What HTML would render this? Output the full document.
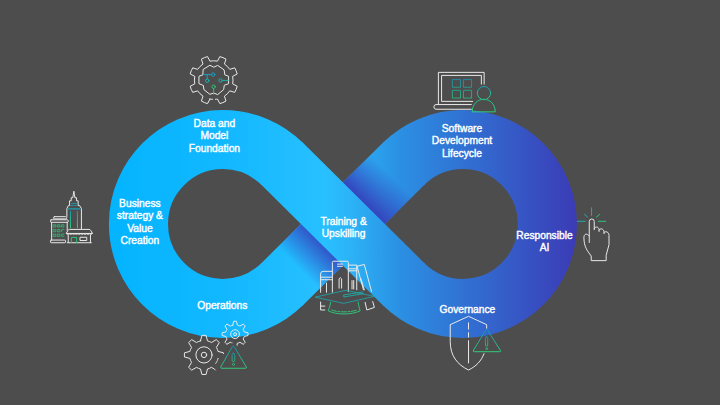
<!DOCTYPE html>
<html><head><meta charset="utf-8"><title>AI lifecycle</title>
<style>
html,body{margin:0;padding:0;background:#4d4d4d;}
body{width:720px;height:405px;overflow:hidden;position:relative;font-family:"Liberation Sans",sans-serif;}
svg{position:absolute;left:0;top:0;}
.t{position:absolute;color:#fff;font-size:10.25px;line-height:12px;text-align:center;white-space:nowrap;transform:translateX(-50%);font-weight:normal;-webkit-text-stroke:0.4px #fff;}
</style></head><body>
<svg width="720" height="405" viewBox="0 0 720 405">
<defs>
<linearGradient id="g" gradientUnits="userSpaceOnUse" x1="109" y1="0" x2="577" y2="0">
<stop offset="0" stop-color="#04b4ff"/>
<stop offset="0.25" stop-color="#12b8ff"/>
<stop offset="0.46" stop-color="#28c0ff"/>
<stop offset="0.52" stop-color="#2cb2f6"/>
<stop offset="0.62" stop-color="#2b90e3"/>
<stop offset="1" stop-color="#3b3bb6"/>
</linearGradient>
<linearGradient id="s1" gradientUnits="userSpaceOnUse" x1="362.83" y1="204.26" x2="391.60" y2="175.76">
<stop offset="0" stop-color="#3540bb" stop-opacity="1"/>
<stop offset="1" stop-color="#3540bb" stop-opacity="0"/>
</linearGradient>
<linearGradient id="s2" gradientUnits="userSpaceOnUse" x1="322.97" y1="243.74" x2="298.46" y2="268.02">
<stop offset="0" stop-color="#3152c6" stop-opacity="1"/>
<stop offset="1" stop-color="#3152c6" stop-opacity="0"/>
</linearGradient>
<linearGradient id="tgA" gradientUnits="userSpaceOnUse" x1="0" y1="79" x2="0" y2="98"><stop offset="0" stop-color="#1a8fae"/><stop offset="1" stop-color="#2bbd80"/></linearGradient>
<linearGradient id="tgB" gradientUnits="userSpaceOnUse" x1="0" y1="86" x2="0" y2="100"><stop offset="0" stop-color="#1a9db8"/><stop offset="1" stop-color="#30cc78"/></linearGradient>
<linearGradient id="tgC" gradientUnits="userSpaceOnUse" x1="0" y1="96" x2="0" y2="112"><stop offset="0" stop-color="#25b592"/><stop offset="1" stop-color="#30cc78"/></linearGradient>
<linearGradient id="tgD" gradientUnits="userSpaceOnUse" x1="0" y1="211" x2="0" y2="228"><stop offset="0" stop-color="#1a9db8"/><stop offset="1" stop-color="#30cc78"/></linearGradient>
<linearGradient id="tgE" gradientUnits="userSpaceOnUse" x1="0" y1="345" x2="0" y2="369"><stop offset="0" stop-color="#1a8fae"/><stop offset="1" stop-color="#30cc78"/></linearGradient>
<linearGradient id="tgE2" gradientUnits="userSpaceOnUse" x1="0" y1="353" x2="0" y2="363"><stop offset="0" stop-color="#1a9db8"/><stop offset="1" stop-color="#30cc78"/></linearGradient>
<linearGradient id="tgF" gradientUnits="userSpaceOnUse" x1="0" y1="329" x2="0" y2="352"><stop offset="0" stop-color="#1a8fae"/><stop offset="1" stop-color="#30cc78"/></linearGradient>
<linearGradient id="tgF2" gradientUnits="userSpaceOnUse" x1="0" y1="337" x2="0" y2="347"><stop offset="0" stop-color="#1a9db8"/><stop offset="1" stop-color="#30cc78"/></linearGradient>
</defs>
<rect width="720" height="405" fill="#4d4d4d"/>
<polygon points="302.42,305.69 424.97,184.29 383.38,142.31 260.83,263.71" fill="url(#g)"/>
<polygon points="383.62,225.25 412.40,196.75 370.81,154.76 342.03,183.27" fill="url(#s1)"/>
<polygon points="343.77,264.73 319.26,289.01 277.66,247.03 302.18,222.75" fill="url(#s2)"/>
<path d="M282.33,164.00 A84.45,84.45 0 1 0 282.33,284.00" fill="none" stroke="url(#g)" stroke-width="59.1"/>
<path d="M403.47,164.00 A84.45,84.45 0 1 1 403.47,284.00" fill="none" stroke="url(#g)" stroke-width="59.1"/>
<polygon points="260.83,184.29 383.38,305.69 424.97,263.71 302.42,142.31" fill="url(#g)"/>
<g fill="none" stroke="#e9e9e9" stroke-width="1.0" stroke-linejoin="round" stroke-linecap="round">
<path d="M209.93,99.03 L207.56,103.61 A24.30,24.30 0 0 1 201.41,101.06 L202.98,96.15 A19.30,19.30 0 0 1 197.65,90.82 L192.74,92.39 A24.30,24.30 0 0 1 190.19,86.24 L194.77,83.87 A19.30,19.30 0 0 1 194.77,76.33 L190.19,73.96 A24.30,24.30 0 0 1 192.74,67.81 L197.65,69.38 A19.30,19.30 0 0 1 202.98,64.05 L201.41,59.14 A24.30,24.30 0 0 1 207.56,56.59 L209.93,61.17 A19.30,19.30 0 0 1 217.47,61.17 L219.84,56.59 A24.30,24.30 0 0 1 225.99,59.14 L224.42,64.05 A19.30,19.30 0 0 1 229.75,69.38 L234.66,67.81 A24.30,24.30 0 0 1 237.21,73.96 L232.63,76.33 A19.30,19.30 0 0 1 232.63,83.87 L237.21,86.24 A24.30,24.30 0 0 1 234.66,92.39 L229.75,90.82 A19.30,19.30 0 0 1 224.42,96.15 L225.99,101.06 A24.30,24.30 0 0 1 219.84,103.61 L217.47,99.03 A19.30,19.30 0 0 1 209.93,99.03 Z" pathLength="100" stroke-dasharray="97.2 1.5 1.3 0"/>
<path d="M210.30,65.43 L213.75,67.21 L217.70,65.43 L224.12,69.88 L224.81,74.81 L228.57,76.30 L228.57,83.70 L224.32,85.19 L223.63,89.63 L217.70,94.57 L213.75,93.09 L209.80,94.27 L203.88,89.63 L203.38,85.48 L198.94,83.70 L198.94,76.30 L202.89,74.81 L203.09,69.88 Z"/>
<circle cx="213.2" cy="74.6" r="1.7" stroke="#1e9fc0"/><path d="M203.7,74.6H211.4M207.2,74.6V78.9" stroke="#1e9fc0"/><circle cx="207.2" cy="80.7" r="1.7" stroke="#20b0a8"/>
<circle cx="220.6" cy="80.4" r="1.7" stroke="#20b0a8"/><path d="M222.4,80.4H228.2" stroke="#20b0a8"/>
<circle cx="213.6" cy="86.7" r="1.7" stroke="#2fc272"/><path d="M213.6,88.5V94.1" stroke="#2fc272"/>
<path d="M484.14,84.11 L484.14,72.36 L438.40,72.36 L438.40,104.14 "/>
<path d="M481.37,84.11 L481.37,75.40 L441.58,75.40 L441.58,101.38 L472.67,101.38 "/>
<path d="M471.29,104.56 L436.05,104.56  A2.35,2.35 0 0 0 436.05,109.25 L471.29,109.25"/>
<rect x="452.77" y="79.55" width="7.74" height="7.74" stroke="url(#tgA)" stroke-width="0.85"/>
<rect x="463.83" y="79.55" width="7.74" height="7.74" stroke="url(#tgA)" stroke-width="0.85"/>
<rect x="452.77" y="90.32" width="7.74" height="7.74" stroke="url(#tgA)" stroke-width="0.85"/>
<rect x="463.83" y="90.32" width="7.74" height="7.74" stroke="url(#tgA)" stroke-width="0.85"/>
<circle cx="484.00" cy="93.09" r="6.63" stroke="url(#tgB)"/>
<path d="M472.25,111.46 C472.25,103.45 478.20,99.31 483.72,99.31 C489.25,99.31 495.19,103.45 495.19,111.46 Z" stroke="url(#tgC)"/>
<path d="M66.89,216.37 L66.89,208.52 L68.37,205.56 L69.56,205.56 L69.56,200.81 L71.19,200.81 L71.19,197.70 L72.81,197.70 L73.26,194.89 L73.85,191.19 L74.44,194.89 L74.89,197.70 L76.52,197.70 L76.52,200.81 L78.15,200.81 L78.15,205.56 L79.63,205.56 L81.41,208.52 L81.41,228.96 "/>
<path d="M71.63,203.48 L76.37,203.48  M70.59,205.41 L77.41,205.41 " stroke="#1e9fb2" stroke-width="0.8"/>
<path d="M68.22,208.96 L80.07,208.96 " stroke="#1e9fb2" stroke-width="1.2"/>
<path d="M70.44,227.78 L70.44,211.48  M77.41,227.78 L77.41,211.48 " stroke="url(#tgD)"/>
<rect x="53.41" y="216.67" width="13.33" height="2.22" rx="1.2"/>
<rect x="50.44" y="219.78" width="17.78" height="2.52" rx="0.8"/>
<path d="M51.63,222.30 L51.63,240.07  M67.19,222.30 L67.19,230.44 "/>
<rect x="50.44" y="240.07" width="15.11" height="2.67" rx="0.8"/>
<rect x="53.56" y="224.81" width="2.22" height="2.22" stroke="#2fc47a" stroke-width="0.8"/>
<rect x="57.70" y="224.81" width="2.22" height="2.22" stroke="#2fc47a" stroke-width="0.8"/>
<rect x="61.70" y="224.81" width="2.22" height="2.22" stroke="#2fc47a" stroke-width="0.8"/>
<rect x="53.56" y="229.56" width="2.22" height="2.22" stroke="#2fc47a" stroke-width="0.8"/>
<rect x="57.70" y="229.56" width="2.22" height="2.22" stroke="#2fc47a" stroke-width="0.8"/>
<path d="M61.70,231.78 L61.70,229.56 L63.93,229.56 " stroke="#2fc47a" stroke-width="0.8"/>
<rect x="53.56" y="234.15" width="2.22" height="2.22" stroke="#2fc47a" stroke-width="0.8"/>
<rect x="57.70" y="234.15" width="2.22" height="2.22" stroke="#2fc47a" stroke-width="0.8"/>
<path d="M63.93,236.37 L61.70,236.37 L61.70,234.15 L63.93,234.15 " stroke="#2fc47a" stroke-width="0.8"/>
<path d="M66.44,233.11 L67.93,230.44 Q68.37,229.41 69.70,229.41 L88.96,229.41 Q90.30,229.41 90.74,230.44 L92.22,233.11 Z" fill="#4d4d4d"/>
<path d="M66.44,233.11 A1.43,1.43 0 0 0 69.31,233.11 A1.43,1.43 0 0 0 72.17,233.11 A1.43,1.43 0 0 0 75.04,233.11 A1.43,1.43 0 0 0 77.90,233.11 A1.43,1.43 0 0 0 80.77,233.11 A1.43,1.43 0 0 0 83.63,233.11 A1.43,1.43 0 0 0 86.49,233.11 A1.43,1.43 0 0 0 89.36,233.11 A1.43,1.43 0 0 0 92.22,233.11" stroke-width="0.8"/>
<path d="M68.22,235.19 L68.22,242.59  M90.44,235.19 L90.44,242.59  M67.33,242.74 L91.33,242.74 "/>
<path d="M71.33,242.59 L71.33,237.41 L76.67,237.41 L76.67,242.59 " stroke="#2fc47a"/>
<rect x="80.37" y="237.26" width="6.37" height="3.26"/>
<path d="M589.26,242.48 L589.26,221.49 A2.49,2.49 0 0 1 594.24,221.49 L594.24,229.67 M594.24,228.60 C595.13,226.11 598.69,226.47 599.05,229.67 L599.05,231.45 M599.05,230.03 C600.11,227.89 603.67,228.60 604.03,231.81 L604.03,233.59 M604.03,232.52 C605.45,230.74 609.01,231.81 609.01,235.37 L609.01,244.62 L606.16,255.30 L606.16,260.63 L591.22,260.63 L591.22,256.01 C587.12,250.49 584.10,246.93 583.92,238.04 C583.74,233.59 587.12,232.88 589.26,236.08"/>
<path d="M591.57,207.79 L591.57,215.44  M584.46,214.37 L587.66,217.22  M577.34,221.31 L585.35,221.31 " stroke="#1fa9b3"/>
<path d="M599.58,214.37 L596.38,217.22  M598.33,221.31 L605.81,221.31 " stroke="#2fc47a"/>
<path d="M200.48,340.84 L201.88,335.43 A19.60,19.60 0 0 1 206.07,335.43 L207.47,340.84 A14.50,14.50 0 0 1 211.45,342.49 L216.27,339.65 A19.60,19.60 0 0 1 219.24,342.62 L216.40,347.43 A14.50,14.50 0 0 1 218.05,351.42 L223.46,352.82 A19.60,19.60 0 0 1 223.46,357.01 L218.05,358.41 A14.50,14.50 0 0 1 216.40,362.39 L219.24,367.21 A19.60,19.60 0 0 1 216.27,370.18 L211.45,367.34 A14.50,14.50 0 0 1 207.47,368.99 L206.07,374.40 A19.60,19.60 0 0 1 201.88,374.40 L200.48,368.99 A14.50,14.50 0 0 1 196.50,367.34 L191.68,370.18 A19.60,19.60 0 0 1 188.71,367.21 L191.55,362.39 A14.50,14.50 0 0 1 189.90,358.41 L184.49,357.01 A19.60,19.60 0 0 1 184.49,352.82 L189.90,351.42 A14.50,14.50 0 0 1 191.55,347.43 L188.71,342.62 A19.60,19.60 0 0 1 191.68,339.65 L196.50,342.49 A14.50,14.50 0 0 1 200.48,340.84 Z"/>
<circle cx="203.98" cy="354.91" r="8.1"/><circle cx="203.98" cy="354.91" r="2.7"/>
<path d="M215.46,354.31 L226.94,353.71 L225.59,362.78 L218.14,373.04 L211.06,363.98 L214.78,358.85 Z" fill="#4d4d4d" stroke="none"/>
<path d="M218.04,358.42 A14.5,14.5 0 0 1 215.71,363.44" stroke-dasharray="2 1.4"/>
<path d="M232.82,325.05 L233.70,321.25 A13.00,13.00 0 0 1 236.48,321.25 L237.35,325.05 A9.40,9.40 0 0 1 239.93,326.12 L243.24,324.05 A13.00,13.00 0 0 1 245.21,326.02 L243.14,329.32 A9.40,9.40 0 0 1 244.21,331.91 L248.01,332.78 A13.00,13.00 0 0 1 248.01,335.56 L244.21,336.44 A9.40,9.40 0 0 1 243.14,339.02 L245.21,342.33 A13.00,13.00 0 0 1 243.24,344.30 L239.93,342.23 A9.40,9.40 0 0 1 237.35,343.30 L236.48,347.10 A13.00,13.00 0 0 1 233.70,347.10 L232.82,343.30 A9.40,9.40 0 0 1 230.24,342.23 L226.93,344.30 A13.00,13.00 0 0 1 224.96,342.33 L227.03,339.02 A9.40,9.40 0 0 1 225.96,336.44 L222.16,335.56 A13.00,13.00 0 0 1 222.16,332.78 L225.96,331.91 A9.40,9.40 0 0 1 227.03,329.32 L224.96,326.02 A13.00,13.00 0 0 1 226.93,324.05 L230.24,326.12 A9.40,9.40 0 0 1 232.82,325.05 Z"/>
<circle cx="235.09" cy="334.17" r="4.4"/><circle cx="235.09" cy="334.17" r="1.5"/>
<path d="M232.34,346.60 Q233.23,345.04 234.16,346.58 L246.14,366.70 Q247.06,368.25 245.26,368.25 L221.82,368.25 Q220.02,368.25 220.92,366.68 Z" stroke="#4d4d4d" stroke-width="5.5" fill="#4d4d4d"/>
<path d="M232.34,346.60 Q233.23,345.04 234.16,346.58 L246.14,366.70 Q247.06,368.25 245.26,368.25 L221.82,368.25 Q220.02,368.25 220.92,366.68 Z" stroke="url(#tgE)" stroke-width="1.0"/>
<rect x="232.12" y="353.19" width="2.59" height="8.40" rx="1.30" stroke="url(#tgE2)" stroke-width="0.8"/>
<circle cx="233.48" cy="364.42" r="1.05" stroke="#2fc47a" stroke-width="0.8"/>
<path d="M320.61,292.34 L320.61,273.85 Q320.61,271.33 323.13,271.33 L332.37,271.33 M320.61,277.21 L332.37,277.21 M320.61,279.73 L332.37,279.73 M326.49,283.09 L326.49,292.34"/>
<path d="M332.37,292.34 L332.37,262.42 Q332.37,261.24 333.55,261.24 L347.16,261.24 Q348.34,261.24 348.34,262.42 L348.34,291.50 M337.41,264.10 L342.45,264.10 M337.41,266.29 L342.45,266.29"/>
<path d="M339.09,288.13 L339.09,278.89 Q340.27,276.37 341.61,278.89 L341.61,288.13"/>
<path d="M348.34,265.11 L356.74,265.11 L356.74,289.82 M348.34,268.81 L356.74,268.81 M348.34,270.82 L356.74,270.82 M352.03,280.57 L352.03,288.97 M353.71,280.57 L353.71,288.97"/>
<path d="M357.08,266.29 L364.30,264.44 L371.53,291.50 M357.08,266.29 L363.46,289.82 M360.94,278.89 L364.30,289.82"/>
<path d="M315.56,297.04 L345.82,290.32 L374.39,296.37 L344.13,303.26 Z" stroke="#1fa5a8" stroke-width="0.85"/>
<path d="M344.13,294.86 L362.62,292.00 M344.13,296.87 L363.46,293.68 M344.13,294.86 A1.01,1.01 0 0 0 344.13,296.87" stroke="#1fa9a8" stroke-width="0.9"/>
<path d="M330.69,302.42 C329.85,306.62 329.01,308.30 328.17,310.82 C336.57,315.03 351.70,315.03 360.10,310.82 C359.26,308.30 358.76,305.78 358.08,302.08" stroke="#2fc47a"/>
<path d="M331.53,309.98 C338.25,312.50 350.02,312.50 357.08,309.98" stroke="#2fc47a" stroke-dasharray="5 1.5 2 1.5"/>
<path d="M320.61,302.08 L320.61,309.98 L324.81,309.98 M320.61,306.12 L324.81,306.12"/>
<path d="M365.14,302.42 L366.82,309.98 L374.39,307.46 L372.71,301.58"/>
<path d="M486.67,328.22 L486.67,324.67 L468.53,316.31 L450.22,324.67 L450.22,341.56 C450.22,355.78 457.33,364.67 468.53,370.00 C476.00,366.44 481.33,361.11 484.00,353.64"/>
<path d="M468.53,322.89 L468.53,329.11  M468.53,332.67 L468.53,337.11  M468.53,340.67 L468.53,362.89 "/>
<path d="M485.83,330.12 Q486.67,328.76 487.52,330.11 L500.39,350.34 Q501.24,351.69 499.64,351.69 L474.22,351.69 Q472.62,351.69 473.46,350.32 Z" stroke="url(#tgF)" stroke-width="1.0"/>
<rect x="485.42" y="336.58" width="2.31" height="9.60" rx="1.16" stroke="url(#tgF2)" stroke-width="0.8"/>
<circle cx="486.67" cy="348.67" r="0.95" stroke="#2fc47a" stroke-width="0.8"/>
</g>
</svg>
<div class="t" style="left:214.4px;top:117.65px">Data and</div>
<div class="t" style="left:214.4px;top:130.45px">Model</div>
<div class="t" style="left:214.4px;top:142.65px">Foundation</div>
<div class="t" style="left:462.0px;top:122.85px">Software</div>
<div class="t" style="left:462.0px;top:135.35px">Development</div>
<div class="t" style="left:462.0px;top:147.55px">Lifecycle</div>
<div class="t" style="left:139.9px;top:197.90px">Business</div>
<div class="t" style="left:139.9px;top:210.25px">strategy &amp;</div>
<div class="t" style="left:139.9px;top:222.55px">Value</div>
<div class="t" style="left:139.9px;top:234.95px">Creation</div>
<div class="t" style="left:343.6px;top:216.45px">Training &amp;</div>
<div class="t" style="left:343.6px;top:228.45px">Upskilling</div>
<div class="t" style="left:544.5px;top:229.65px">Responsible</div>
<div class="t" style="left:544.5px;top:242.15px">AI</div>
<div class="t" style="left:222.3px;top:299.75px">Operations</div>
<div class="t" style="left:467.4px;top:304.15px">Governance</div>

</body></html>
